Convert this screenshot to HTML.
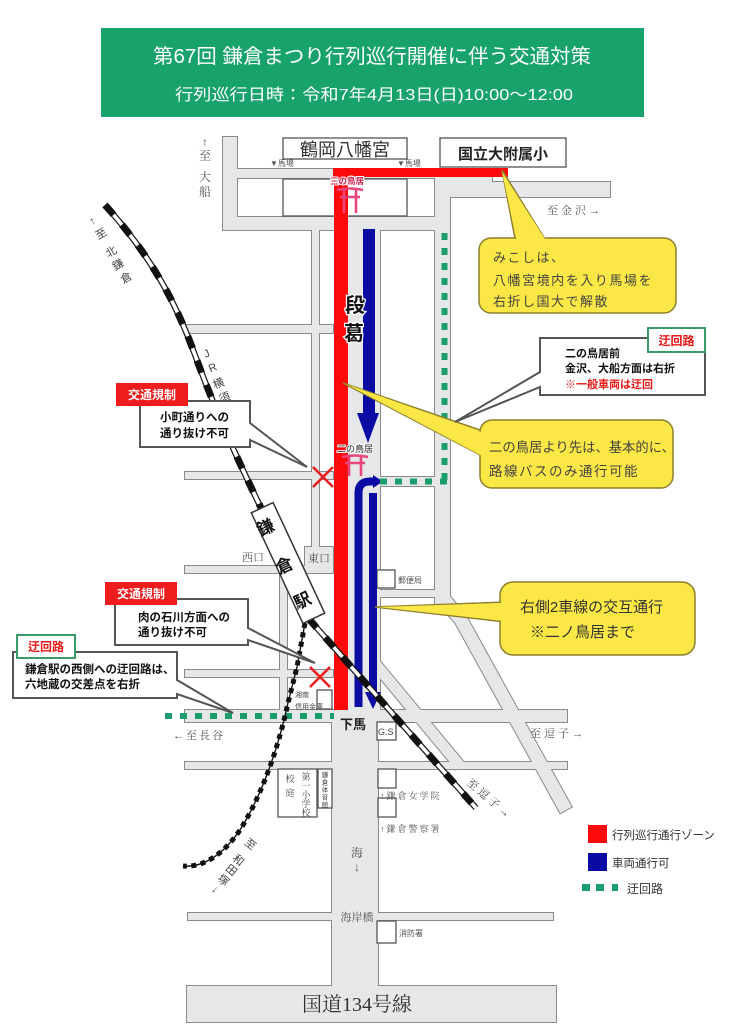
<!DOCTYPE html>
<html><head><meta charset="utf-8">
<style>
html,body{margin:0;padding:0;background:#fff;}
svg{display:block;}
text{font-family:"Liberation Sans","Noto Sans CJK JP",sans-serif;}
text.s, .s text{font-family:"Liberation Serif","Noto Serif CJK SC",serif;}
</style></head><body>
<svg width="748" height="1024" viewBox="0 0 748 1024" xmlns="http://www.w3.org/2000/svg">
<rect width="748" height="1024" fill="#fff"/>

<!-- Header -->
<rect x="101" y="28" width="543" height="89" fill="#17a36b"/>
<text x="372" y="63" font-size="20" fill="#fff" text-anchor="middle" textLength="438" lengthAdjust="spacingAndGlyphs">第67回 鎌倉まつり行列巡行開催に伴う交通対策</text>
<text x="374" y="100" font-size="16" fill="#fff" text-anchor="middle" textLength="398" lengthAdjust="spacingAndGlyphs">行列巡行日時：令和7年4月13日(日)10:00～12:00</text>

<!-- Roads -->
<defs>
<g id="R">
  <rect x="223" y="137" width="14" height="93"/>
  <rect x="223" y="169" width="269" height="9"/>
  <rect x="435" y="169" width="57" height="28"/>
  <rect x="435" y="182" width="175" height="15"/>
  <rect x="223" y="217" width="227" height="13"/>
  <rect x="435" y="169" width="15" height="436"/>
  <polygon points="435,596 450,596 466.7,616.9 571.7,806.9 560.3,813.1 455.3,623.1 435,601"/>
  <rect x="348" y="217" width="32" height="505"/>
  <rect x="312" y="217" width="7" height="335"/>
  <rect x="185" y="325" width="148" height="8"/>
  <rect x="185" y="472" width="148" height="7"/>
  <rect x="185" y="566" width="148" height="7"/>
  <rect x="185" y="670" width="148" height="7"/>
  <rect x="280" y="566" width="7" height="150"/>
  <rect x="305" y="547" width="28" height="26"/>
  <rect x="378" y="590" width="62" height="7"/>
  <rect x="378" y="477" width="62" height="9"/>
  <rect x="185" y="710" width="382" height="12"/>
  <rect x="332" y="710" width="46" height="276"/>
  <rect x="185" y="762" width="382" height="7"/>
  <polygon points="376.2,656.5 464.2,762.5 455.8,769.5 367.8,663.5"/>
  <rect x="188" y="913" width="365" height="7"/>
  <rect x="187" y="986" width="369" height="36"/>
</g>
</defs>
<use href="#R" fill="#e6e7e8" stroke="#8a8a8a" stroke-width="2"/>
<use href="#R" fill="#e6e7e8" stroke="none"/>

<!-- white boxes -->
<g fill="#fff" stroke="#555" stroke-width="1.3">
  <rect x="283" y="138" width="124" height="21"/>
  <rect x="283" y="179" width="124" height="37"/>
  <rect x="440" y="138" width="126" height="29"/>
  <rect x="377" y="570" width="18" height="18"/>
  <rect x="317" y="690" width="15" height="19"/>
  <rect x="377" y="722" width="19" height="18"/>
  <rect x="278" y="769" width="39" height="48"/>
  <rect x="318" y="769" width="14" height="39"/>
  <rect x="378" y="769" width="18" height="19"/>
  <rect x="378" y="798" width="18" height="19"/>
  <rect x="377" y="921" width="19" height="22"/>
</g>

<!-- Red zone -->
<rect x="333" y="168" width="175" height="9" fill="#ff0a0a"/>
<rect x="334" y="168" width="14" height="542" fill="#ff0a0a"/>

<!-- Torii icons -->
<g stroke="#e8457c" stroke-width="2.6" fill="none">
  <path d="M337,190 Q350,187 363,190"/>
  <path d="M340,197 H360"/>
  <path d="M344,190 V213 M356,190 V213"/>
  <path d="M342,457 Q355,454 368,457"/>
  <path d="M345,463 H365"/>
  <path d="M349,457 V476 M361,457 V476"/>
</g>

<!-- Blue lanes -->
<g fill="#0b0ba3">
  <rect x="363" y="229" width="12" height="186"/>
  <polygon points="357,413 379,413 368,443"/>
  <rect x="369" y="493" width="8" height="201"/>
  <polygon points="365,692 381,692 373,709"/>
  <polygon points="373,475 383,481.5 373,488"/>
</g>
<path d="M358.5,707 V493 Q358.5,481.5 370,481.5 H375" fill="none" stroke="#0b0ba3" stroke-width="8"/>

<!-- Green detours -->
<g stroke="#1b9e6c" stroke-width="6" fill="none" stroke-dasharray="7 8">
  <line x1="444.5" y1="233" x2="444.5" y2="484"/>
  <line x1="447" y1="481.5" x2="380" y2="481.5"/>
  <line x1="165" y1="716" x2="334" y2="716"/>
</g>

<!-- Red X marks -->
<g stroke="#e82020" stroke-width="2.6">
  <path d="M313,467 L333,487 M333,467 L313,487"/>
  <path d="M310,667 L330,687 M330,667 L310,687"/>
</g>

<!-- JR rail -->
<g fill="none">
  <path d="M105,205 C150,255 175,300 195,355 C215,410 240,465 262,510" stroke="#111" stroke-width="6"/>
  <path d="M105,205 C150,255 175,300 195,355 C215,410 240,465 262,510" stroke="#fff" stroke-width="3.6"/>
  <path d="M105,205 C150,255 175,300 195,355 C215,410 240,465 262,510" stroke="#111" stroke-width="7" stroke-dasharray="13 13"/>
  <path d="M308,618 L476,808" stroke="#111" stroke-width="6"/>
  <path d="M308,618 L476,808" stroke="#fff" stroke-width="3.6"/>
  <path d="M308,618 L476,808" stroke="#111" stroke-width="7" stroke-dasharray="13 13"/>
</g>
<!-- Enoden -->
<g fill="none">
  <path d="M305,623 L297,667 L288,703 C280,740 265,790 240,830 C225,852 205,868 183,866" stroke="#111" stroke-width="1.4"/>
  <path d="M305,623 L297,667 L288,703 C280,740 265,790 240,830 C225,852 205,868 183,866" stroke="#111" stroke-width="5" stroke-dasharray="5 4.5"/>
</g>

<!-- Station -->
<polygon points="251.3,512.8 273.1,502.6 324.7,613.2 302.9,623.4" fill="#fff" stroke="#333" stroke-width="1.5"/>
<g font-size="17" font-weight="bold" fill="#111" text-anchor="middle">
  <text transform="translate(268,533) rotate(-25)">鎌</text>
  <text transform="translate(287,571) rotate(-25)">倉</text>
  <text transform="translate(305,606) rotate(-25)">駅</text>
</g>

<!-- Map labels -->
<g fill="#555" font-size="8" >
  <text x="270" y="166">▼馬場</text>
  <text x="397" y="166">▼馬場</text>
</g>
<text x="345" y="156" font-size="18" fill="#333" text-anchor="middle">鶴岡八幡宮</text>
<text x="503" y="159" font-size="15" font-weight="bold" fill="#222" text-anchor="middle">国立大附属小</text>
<text x="347" y="184" font-size="8.5" font-weight="bold" fill="#c8234f" stroke="#fff" stroke-width="2" paint-order="stroke" text-anchor="middle">三の鳥居</text>
<text class="s" x="547" y="214" font-size="11" fill="#555" letter-spacing="3">至金沢→</text>
<g class="s" font-size="12" fill="#555" text-anchor="middle">
  <text x="205" y="146">↑</text>
  <text x="205" y="160">至</text>
  <text x="205" y="181">大</text>
  <text x="205" y="196">船</text>
</g>
<g font-size="20" font-weight="bold" fill="#111" stroke="#fff" stroke-width="2.5" paint-order="stroke" text-anchor="middle">
  <text x="355" y="312">段</text>
  <text x="354" y="340">葛</text>
</g>
<text x="355" y="452" font-size="9" fill="#222" stroke="#fff" stroke-width="2" paint-order="stroke" text-anchor="middle">二の鳥居</text>

<!-- rotated rail labels -->
<g font-size="11" fill="#444" text-anchor="middle">
  <text transform="translate(94,224) rotate(-30)">↑</text>
  <text transform="translate(103,237) rotate(-30)">至</text>
  <text transform="translate(113,255) rotate(-30)">北</text>
  <text transform="translate(120,268) rotate(-30)">鎌</text>
  <text transform="translate(128,281) rotate(-30)">倉</text>
  <text transform="translate(208,357) rotate(-22)">J</text>
  <text transform="translate(214,371) rotate(-22)">R</text>
  <text transform="translate(220,387) rotate(-22)">横</text>
  <text transform="translate(226,401) rotate(-22)">須</text>
  <text transform="translate(232,415) rotate(-22)">賀</text>
  <text transform="translate(238,429) rotate(-22)">線</text>
  <text transform="translate(248,847) rotate(40)">至</text>
  <text transform="translate(236,863) rotate(40)">和</text>
  <text transform="translate(229,873) rotate(40)">田</text>
  <text transform="translate(221,883) rotate(40)">塚</text>
  <text transform="translate(213,892) rotate(40)">↓</text>
</g>
<text class="s" transform="translate(466,784) rotate(40)" font-size="11" fill="#444" letter-spacing="3">至逗子→</text>

<g class="s" fill="#555" font-size="11">
  <text x="242" y="561">西口</text>
  <text x="308" y="562">東口</text>
  <text x="173" y="739" letter-spacing="2">←至長谷</text>
  <text x="530" y="737" letter-spacing="3">至逗子→</text>
</g>
<text x="398" y="583" font-size="8" fill="#555">郵便局</text>
<g font-size="7" fill="#444">
  <text x="295" y="697">湘南</text>
  <text x="295" y="709">信用金庫</text>
</g>
<text x="340" y="729" font-size="13" font-weight="bold" fill="#222">下馬</text>
<text x="378" y="735" font-size="9" fill="#444">G.S</text>
<g class="s" font-size="9" fill="#444" text-anchor="middle">
  <text x="290" y="782">校</text>
  <text x="290" y="796">庭</text>
  <text x="306" y="780">第</text>
  <text x="306" y="789">一</text>
  <text x="306" y="798">小</text>
  <text x="306" y="807">学</text>
  <text x="306" y="816">校</text>
</g>
<g font-size="6.5" fill="#444" text-anchor="middle">
  <text x="325" y="777">鎌</text>
  <text x="325" y="784.5">倉</text>
  <text x="325" y="792">体</text>
  <text x="325" y="799.5">育</text>
  <text x="325" y="807">館</text>
</g>
<g class="s" font-size="9" fill="#555" letter-spacing="2">
  <text x="380" y="799">↑鎌倉女学院</text>
  <text x="380" y="832">↑鎌倉警察署</text>
</g>
<g class="s" font-size="12" fill="#555" text-anchor="middle">
  <text x="357" y="857">海</text>
  <text x="357" y="871">↓</text>
</g>
<text class="s" x="357" y="921" font-size="11" fill="#555" text-anchor="middle">海岸橋</text>
<text x="399" y="936" font-size="8" fill="#555">消防署</text>
<text class="s" x="357" y="1011" font-size="20" fill="#333" text-anchor="middle">国道134号線</text>

<!-- Yellow callouts -->
<g fill="#fbe745" stroke="#8d7f2c" stroke-width="1.5">
  <polygon points="502,170 516,244 548,244"/>
  <rect x="479" y="238" width="197" height="75" rx="12"/>
  <polygon points="343,383 486,432 486,458"/>
  <rect x="480" y="420" width="193" height="68" rx="12"/>
  <polygon points="375,607 506,602 506,622"/>
  <rect x="500" y="582" width="195" height="73" rx="13"/>
</g>
<g fill="#fbe745">
  <polygon points="502,172 517,242 547,242"/>
  <polygon points="346,384 484,433 484,457"/>
  <polygon points="378,607 504,603 504,621"/>
</g>
<g fill="#444" font-size="13" letter-spacing="1.5">
  <text x="493" y="262">みこしは、</text>
  <text x="493" y="285" textLength="160" lengthAdjust="spacingAndGlyphs">八幡宮境内を入り馬場を</text>
  <text x="493" y="306">右折し国大で解散</text>
</g>
<g fill="#444" font-size="13.5">
  <text x="489" y="452" textLength="186" lengthAdjust="spacingAndGlyphs">二の鳥居より先は、基本的に、</text>
  <text x="489" y="476" letter-spacing="1.5">路線バスのみ通行可能</text>
</g>
<g fill="#333" font-size="15">
  <text x="520" y="612" textLength="143" lengthAdjust="spacingAndGlyphs">右側2車線の交互通行</text>
  <text x="530" y="637">※二ノ鳥居まで</text>
</g>

<!-- White callouts -->
<g fill="#fff" stroke="#555" stroke-width="2" stroke-linejoin="miter">
  <path d="M140,401 H250 V423 L307,467 L250,440 V447 H140 Z"/>
  <path d="M115,599 H248 V628 L315,663 L248,640 V645 H115 Z"/>
  <path d="M13,652 H177 V680 L233,713 L177,694 V698 H13 Z"/>
  <path d="M540,338 H705 V395 H540 V387 L455,422 L540,372 Z"/>
</g>
<g font-size="11.5" font-weight="bold" fill="#111">
  <text x="160" y="421">小町通りへの</text>
  <text x="160" y="437">通り抜け不可</text>
  <text x="138" y="621">肉の石川方面への</text>
  <text x="138" y="636">通り抜け不可</text>
  <text x="25" y="673">鎌倉駅の西側への迂回路は、</text>
  <text x="25" y="688">六地蔵の交差点を右折</text>
</g>
<g font-size="11" font-weight="bold">
  <text x="565" y="357" fill="#111">二の鳥居前</text>
  <text x="565" y="372" fill="#111">金沢、大船方面は右折</text>
  <text x="565" y="388" fill="#e81818">※一般車両は迂回</text>
</g>

<!-- Tags -->
<rect x="116" y="383" width="72" height="23" fill="#ee1c1c"/>
<text x="152" y="399" font-size="12" font-weight="bold" fill="#fff" text-anchor="middle">交通規制</text>
<rect x="105" y="582" width="72" height="23" fill="#ee1c1c"/>
<text x="141" y="598" font-size="12" font-weight="bold" fill="#fff" text-anchor="middle">交通規制</text>
<rect x="17" y="635" width="58" height="23" fill="#fff" stroke="#3a9a6a" stroke-width="2"/>
<text x="46" y="651" font-size="12" font-weight="bold" fill="#e81818" text-anchor="middle">迂回路</text>
<rect x="648" y="328" width="57" height="24" fill="#fff" stroke="#3a9a6a" stroke-width="2"/>
<text x="676.5" y="345" font-size="12" font-weight="bold" fill="#e81818" text-anchor="middle">迂回路</text>

<!-- Legend -->
<rect x="588" y="825" width="19" height="18" fill="#ff0a0a"/>
<text x="612" y="839" font-size="11.5" fill="#333">行列巡行通行ゾーン</text>
<rect x="588" y="853" width="19" height="18" fill="#0b0ba3"/>
<text x="612" y="867" font-size="11.5" fill="#333">車両通行可</text>
<g fill="#1b9e6c">
  <rect x="582" y="884" width="8" height="7"/>
  <rect x="596" y="884" width="8" height="7"/>
  <rect x="612" y="884" width="6" height="7"/>
</g>
<text x="627" y="893" font-size="12" fill="#333">迂回路</text>
</svg>
</body></html>
